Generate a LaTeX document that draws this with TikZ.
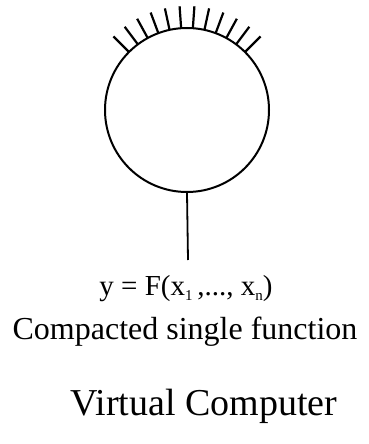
\documentclass[tikz,border=0pt]{standalone}
\usepackage{fontspec}
\setmainfont{Liberation Serif}
\usetikzlibrary{calc}
\newcommand{\lowsub}[1]{\raisebox{-0.45ex}{\fontsize{15}{15}\selectfont #1}}

\begin{document}
\begin{tikzpicture}[x=1pt,y=-1pt]
\useasboundingbox (0,0) rectangle (368,444);
\tikzset{hair/.style={line width=2.2pt},
  lbl/.style={anchor=base,inner sep=0pt}}
\coordinate (O) at (187,110); \coordinate (T) at (188,260);
\node[circle,draw,line width=2pt,minimum size=164pt,inner sep=0pt] (vc) at (O) {};
\foreach \a in {0,...,11} {
  \draw[hair] ($(O)+({45+\a*90/11}:-82)$)--($(O)+({45+\a*90/11}:-104)$);
}
\draw[line width=1.8pt] (vc.south)--(T);
\node[lbl,font=\fontsize{29}{32}\selectfont] (fx) at (186,295) {y = F(x\lowsub{1}\,,..., x\lowsub{n})};
\node[lbl,font=\fontsize{32}{36}\selectfont] (cs) at (185,339) {Compacted single function};
\node[lbl,font=\fontsize{38}{42}\selectfont] (vt) at (204,415) {Virtual Computer};
\end{tikzpicture}
\end{document}
